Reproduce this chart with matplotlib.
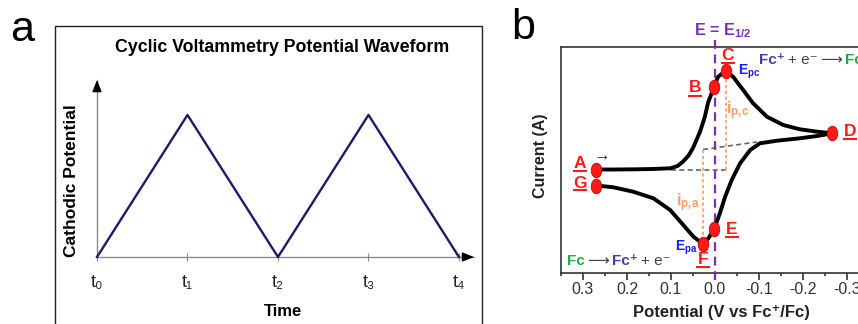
import matplotlib

matplotlib.use("Agg")

import matplotlib.pyplot as plt
from matplotlib.patches import Rectangle
from matplotlib.lines import Line2D
from matplotlib.path import Path
from matplotlib.transforms import Affine2D
from matplotlib.offsetbox import TextArea, HPacker, AnnotationBbox

plt.rcParams["font.family"] = ["Liberation Sans", "DejaVu Sans"]
plt.rcParams["mathtext.fontset"] = "custom"
plt.rcParams["mathtext.rm"] = "Liberation Sans"
plt.rcParams["mathtext.bf"] = "Liberation Sans:bold"
plt.rcParams["mathtext.it"] = "Liberation Sans:italic"

# (a) triangular potential sweep
sweep_times = [0, 1, 2, 3, 4]
sweep_potential = [0, 1, 0, 1, 0]
time_labels = ["t₀", "t₁", "t₂", "t₃", "t₄"]

# (b) ferrocene voltammogram, potential in V vs Fc+/Fc, current in arbitrary units
fwd_E = [0.270, 0.230, 0.180, 0.140, 0.102, 0.085, 0.073, 0.060, 0.050, 0.034,
         0.023, 0.016, 0.002, -0.007, -0.024, -0.041, -0.064, -0.086, -0.118,
         -0.155, -0.193, -0.232, -0.267]
fwd_i = [0.00, 0.00, 0.02, 0.05, 0.12, 0.35, 0.78, 1.40, 2.15, 3.78,
         5.28, 6.65, 8.28, 9.28, 9.85, 9.28, 7.95, 6.65, 5.28,
         4.45, 4.02, 3.78, 3.62]
rev_E = [-0.267, -0.232, -0.193, -0.141, -0.102, -0.080, -0.057, -0.038, -0.023,
         -0.011, 0.002, 0.015, 0.028, 0.049, 0.072, 0.102, 0.140, 0.186, 0.231,
         0.270]
rev_i = [3.62, 3.35, 3.12, 2.88, 2.62, 1.95, 0.62, -1.05, -2.72,
         -4.38, -5.98, -6.88, -7.42, -6.72, -5.55, -4.05, -2.88, -2.22, -1.78,
         -1.60]

point_names = ["A", "B", "C", "D", "E", "F", "G"]
point_E = [0.270, 0.002, -0.024, -0.267, 0.002, 0.028, 0.270]
point_i = [0.00, 8.28, 9.85, 3.62, -5.98, -7.42, -1.60]

# extrapolated baselines for the peak currents
base_fwd_E = [0.100, -0.027]
base_fwd_i = [0.0, 0.0]
base_rev_E = [0.027, -0.095]
base_rev_i = [2.00, 2.75]
E_half = 0.0

W, H = 858, 324
fig = plt.figure(figsize=(W / 100, H / 100), dpi=100)


def box(x0, y0, x1, y1):
    return [x0 / W, 1 - y1 / H, (x1 - x0) / W, (y1 - y0) / H]


def fpos(x, y):
    return x / W, 1 - y / H


# ---------------- panel a ----------------
fig.patches.append(Rectangle(fpos(55, 340), (482 - 55) / W, (340 - 26) / H,
                             transform=fig.transFigure, fill=False,
                             ec="#222222", lw=1.0))

axA = fig.add_axes(box(97, 80, 474, 257))
axA.set_xlim(0, 4.166)
axA.set_ylim(0, 1.246)
axA.plot(sweep_times, sweep_potential, color="#1b1b6b", lw=1.7, clip_on=False,
         zorder=3)
for s in ["top", "right"]:
    axA.spines[s].set_visible(False)
for s in ["left", "bottom"]:
    axA.spines[s].set_color("#8a8a8a")
    axA.spines[s].set_linewidth(1.0)
axA.set_xticks(sweep_times)
axA.set_xticklabels(time_labels, fontsize=13, color="#222222")
axA.tick_params(axis="x", direction="inout", length=6, color="#8a8a8a", pad=9)
axA.set_yticks([])

# black arrow heads on both axes
arrow = dict(arrowstyle="-|>,head_length=0.7,head_width=0.28", color="black",
             lw=1, shrinkA=0, shrinkB=0)
axA.annotate("", xy=(0, 1), xytext=(0, 0.96), xycoords="axes fraction",
             arrowprops=arrow)
axA.annotate("", xy=(1, 0), xytext=(0.97, 0), xycoords="axes fraction",
             arrowprops=arrow)

fig.text(*fpos(282, 47), "Cyclic Voltammetry Potential Waveform",
         ha="center", va="center", fontsize=12.8, fontweight="bold")
fig.text(*fpos(72, 181), "Cathodic Potential", rotation=90,
         ha="center", va="center", fontsize=12.5, fontweight="bold")
fig.text(*fpos(283, 312), "Time", ha="center", va="center",
         fontsize=12, fontweight="bold")
fig.text(*fpos(22, 30), "a", ha="center", va="center", fontsize=31)

# ---------------- panel b ----------------
axB = fig.add_axes(box(561, 47, 869, 273))
axB.set_xlim(0.35, -0.35)
axB.set_ylim(-10.35, 12.25)
axB.set_yticks([])
xt = [0.3, 0.2, 0.1, 0.0, -0.1, -0.2, -0.3]
axB.set_xticks(xt)
axB.set_xticklabels([f"{v:.1f}" for v in xt], fontsize=11.5, color="#333333")
axB.set_xticks([0.35, 0.25, 0.15, 0.05, -0.05, -0.15, -0.25, -0.35], minor=True)
axB.tick_params(axis="x", which="major", direction="out", length=5, width=1.2,
                color="#333333", pad=1.5)
axB.tick_params(axis="x", which="minor", direction="out", length=2.5, width=1.2,
                color="#333333")
for s in axB.spines.values():
    s.set_color("#333333")
    s.set_linewidth(1.2)

orange = "#ff9a66"
grey = "#666666"
red = "#ff1a1a"
blue = "#1a1aff"
purple = "#7a2fb0"

# baselines and peak current markers
axB.plot(base_fwd_E, base_fwd_i, color=grey, lw=1.2, ls=(0, (3, 2)), zorder=2)
axB.plot(base_rev_E, base_rev_i, color=grey, lw=1.2, ls=(0, (3, 2)), zorder=2)
axB.plot([point_E[2], point_E[2]], [base_fwd_i[0], point_i[2]], color=orange,
         lw=1.2, ls=(0, (2, 1.5)), zorder=2)
axB.plot([point_E[5], point_E[5]], [base_rev_i[0], point_i[5]], color=orange,
         lw=1.2, ls=(0, (2, 1.5)), zorder=2)

# half-wave potential
axB.plot([E_half, E_half], [-11.05, 13.35], color=purple, lw=1.6,
         ls=(0, (4, 2.5)), clip_on=False, zorder=3)

axB.plot(fwd_E, fwd_i, color="black", lw=2.8, solid_joinstyle="round",
         solid_capstyle="round", zorder=4)
axB.plot(rev_E, rev_i, color="black", lw=2.8, solid_joinstyle="round",
         solid_capstyle="round", zorder=4)

ellipse = Path.unit_circle().transformed(Affine2D().scale(0.72, 1.0))
axB.plot(point_E, point_i, ls="none", marker=ellipse, ms=10.5, mfc=red,
         mec="#cc0000", mew=0.6, zorder=5, clip_on=False)


def to_data(x, y):
    return 0.3 - (x - 583) / 440, (169.5 - y) / 10


# point letters, underlined
label_pos = {"A": (580, 163), "B": (695, 88), "C": (728, 55), "D": (850, 131),
             "E": (732, 229), "F": (703, 259), "G": (580, 183)}
for name in point_names:
    x, y = label_pos[name]
    axB.text(*to_data(x, y), name, color=red, fontsize=12.5, fontweight="bold",
             ha="center", va="center", zorder=6, clip_on=False)
    fig.add_artist(Line2D([(x - 6) / W, (x + 6) / W],
                          [1 - (y + 7.5) / H, 1 - (y + 7.5) / H],
                          transform=fig.transFigure, color=red, lw=1.5))

axB.text(*to_data(602, 156), "→", color="#222222", fontsize=12,
         ha="center", va="center")
axB.text(*to_data(749, 72), r"$\mathbf{E_{pc}}$", color=blue, fontsize=10,
         ha="center", va="center")
axB.text(*to_data(686, 248), r"$\mathbf{E_{pa}}$", color=blue, fontsize=10,
         ha="center", va="center")
axB.text(*to_data(738, 111), r"$\mathbf{i}_{\mathbf{p{,}c}}$", color=orange,
         fontsize=12, ha="center", va="center")
axB.text(*to_data(688, 203), r"$\mathbf{i}_{\mathbf{p{,}a}}$", color=orange,
         fontsize=12, ha="center", va="center")

fig.text(*fpos(723, 31), r"$\mathbf{E\,=\,E_{1/2}}$", color=purple,
         fontsize=11.5, ha="center", va="center")


def reaction(pieces, x, y):
    parts = [TextArea(t, textprops=dict(color=c, fontsize=11, fontweight=w))
             for t, c, w in pieces]
    pack = HPacker(children=parts, align="baseline", pad=0, sep=2)
    ab = AnnotationBbox(pack, fpos(x, y), xycoords="figure fraction",
                        box_alignment=(0, 0.5), frameon=False, pad=0,
                        annotation_clip=False)
    fig.add_artist(ab)


green = "#22aa44"
fcp = "#4040a8"
dark = "#444444"
reaction([("Fc⁺", fcp, "bold"), ("+ e⁻", dark, "normal"),
          ("⟶", dark, "normal"), ("Fc", green, "bold")], 759, 60)
reaction([("Fc", green, "bold"), ("⟶", dark, "normal"),
          ("Fc⁺", fcp, "bold"), ("+ e⁻", dark, "normal")], 567, 261)

fig.text(*fpos(721, 312), "Potential (V vs Fc⁺/Fc)", ha="center",
         va="center", fontsize=12, fontweight="bold", color="#222222")
fig.text(*fpos(540, 156), "Current (A)", rotation=90, ha="center",
         va="center", fontsize=11.5, fontweight="bold", color="#222222")
fig.text(*fpos(523, 28), "b", ha="center", va="center", fontsize=31)

fig.savefig("out.png", dpi=100)
